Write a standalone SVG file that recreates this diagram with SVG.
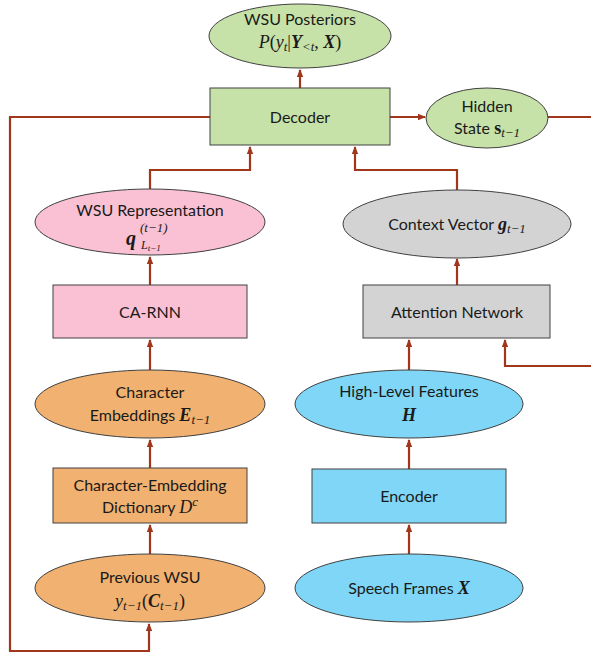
<svg xmlns="http://www.w3.org/2000/svg" width="591" height="655" viewBox="0 0 591 655">
<defs>
<marker id="ah" markerUnits="userSpaceOnUse" markerWidth="8" markerHeight="8" refX="7" refY="4" orient="auto">
<path d="M0,0.8 L8,4 L0,7.2 z" fill="#A0361C"/>
</marker>
<style>
.g{fill:#C6E2A8;stroke:#404040;stroke-width:1}
.p{fill:#F9C1D3;stroke:#404040;stroke-width:1}
.o{fill:#F1B170;stroke:#404040;stroke-width:1}
.b{fill:#7FD6F6;stroke:#404040;stroke-width:1}
.y{fill:#D3D3D3;stroke:#404040;stroke-width:1}
.t{font-family:Lato,"Liberation Sans",sans-serif;font-size:16px;fill:#1a1a1a;text-anchor:middle}
.m{font-family:"Liberation Serif",serif;font-size:18px;fill:#1a1a1a}
.i{font-style:italic}
.bi{font-style:italic;font-weight:bold}
.s{font-size:13px}
.c{fill:none;stroke:#A0361C;stroke-width:2.2}
</style>
</defs>
<g id="connectors">
<path class="c" d="M300,88 V70" marker-end="url(#ah)"/>
<path class="c" d="M390,117 H425" marker-end="url(#ah)"/>
<path class="c" d="M548,117 H591"/>
<path class="c" d="M210,117 H10 V651 H149 V624" marker-end="url(#ah)"/>
<path class="c" d="M150,190 V170 H250 V147" marker-end="url(#ah)"/>
<path class="c" d="M457,190 V170 H355 V147" marker-end="url(#ah)"/>
<path class="c" d="M150,285 V257" marker-end="url(#ah)"/>
<path class="c" d="M457,285 V259" marker-end="url(#ah)"/>
<path class="c" d="M150,370 V340" marker-end="url(#ah)"/>
<path class="c" d="M409,371 V340" marker-end="url(#ah)"/>
<path class="c" d="M591,366 H505 V340" marker-end="url(#ah)"/>
<path class="c" d="M150,468 V440" marker-end="url(#ah)"/>
<path class="c" d="M409,469 V440" marker-end="url(#ah)"/>
<path class="c" d="M150,554 V525" marker-end="url(#ah)"/>
<path class="c" d="M409,554 V525" marker-end="url(#ah)"/>
</g>
<g id="posteriors">
<ellipse class="g" cx="300" cy="36" rx="91" ry="32"/>
<text class="t" x="300" y="25">WSU Posteriors</text>
<text class="m" x="300" y="48" text-anchor="middle"><tspan class="i">P</tspan>(<tspan class="i">y</tspan><tspan class="i s" dy="3">t</tspan><tspan dy="-3">|</tspan><tspan class="bi">Y</tspan><tspan class="i s" dy="3">&lt;t</tspan><tspan dy="-3">, </tspan><tspan class="bi">X</tspan>)</text>
</g>
<g id="decoder">
<rect class="g" x="210" y="88" width="180" height="57"/>
<text class="t" x="300" y="123">Decoder</text>
</g>
<g id="hidden-state">
<ellipse class="g" cx="487" cy="118" rx="61" ry="30"/>
<text class="t" x="487" y="112">Hidden</text>
<text class="t" x="487" y="134">State <tspan class="m" font-weight="bold">s</tspan><tspan class="m i s" dy="3">t−1</tspan></text>
</g>
<g id="wsu-representation">
<ellipse class="p" cx="150" cy="222" rx="115" ry="33"/>
<text class="t" x="150" y="216">WSU Representation</text>
<text class="m"><tspan class="bi" x="126" y="245" font-size="20px">q</tspan><tspan class="i" x="140" y="232" font-size="13px">(t−1)</tspan><tspan class="i" x="141" y="249" font-size="12px">L</tspan><tspan class="i" font-size="9px" dy="2">t−1</tspan></text>
</g>
<g id="context-vector">
<ellipse class="y" cx="457" cy="224" rx="114" ry="34"/>
<text class="t" x="457" y="230">Context Vector <tspan class="m bi">g</tspan><tspan class="m i s" dy="3">t−1</tspan></text>
</g>
<g id="ca-rnn">
<rect class="p" x="53" y="285" width="194" height="53"/>
<text class="t" x="150" y="318">CA-RNN</text>
</g>
<g id="attention-network">
<rect class="y" x="363" y="285" width="187" height="53"/>
<text class="t" x="457" y="318">Attention Network</text>
</g>
<g id="character-embeddings">
<ellipse class="o" cx="150" cy="404" rx="115" ry="34"/>
<text class="t" x="150" y="398">Character</text>
<text class="t" x="150" y="421">Embeddings <tspan class="m bi">E</tspan><tspan class="m i s" dy="3">t−1</tspan></text>
</g>
<g id="high-level-features">
<ellipse class="b" cx="409" cy="404" rx="114" ry="34"/>
<text class="t" x="409" y="397">High-Level Features</text>
<text class="m bi" x="409" y="421" text-anchor="middle">H</text>
</g>
<g id="char-embedding-dictionary">
<rect class="o" x="53" y="468" width="194" height="55"/>
<text class="t" x="150" y="491">Character-Embedding</text>
<text class="t" x="150" y="513">Dictionary <tspan class="m i">D</tspan><tspan class="m i s" dy="-7">c</tspan></text>
</g>
<g id="encoder">
<rect class="b" x="312" y="469" width="194" height="54"/>
<text class="t" x="409" y="502">Encoder</text>
</g>
<g id="previous-wsu">
<ellipse class="o" cx="150" cy="588" rx="115" ry="34"/>
<text class="t" x="150" y="583">Previous WSU</text>
<text class="m" x="150" y="607" text-anchor="middle"><tspan class="i">y</tspan><tspan class="i s" dy="3">t−1</tspan><tspan dy="-3">(</tspan><tspan class="bi">C</tspan><tspan class="i s" dy="3">t−1</tspan><tspan dy="-3">)</tspan></text>
</g>
<g id="speech-frames">
<ellipse class="b" cx="409" cy="588" rx="114" ry="34"/>
<text class="t" x="409" y="594">Speech Frames <tspan class="m bi">X</tspan></text>
</g>
</svg>
